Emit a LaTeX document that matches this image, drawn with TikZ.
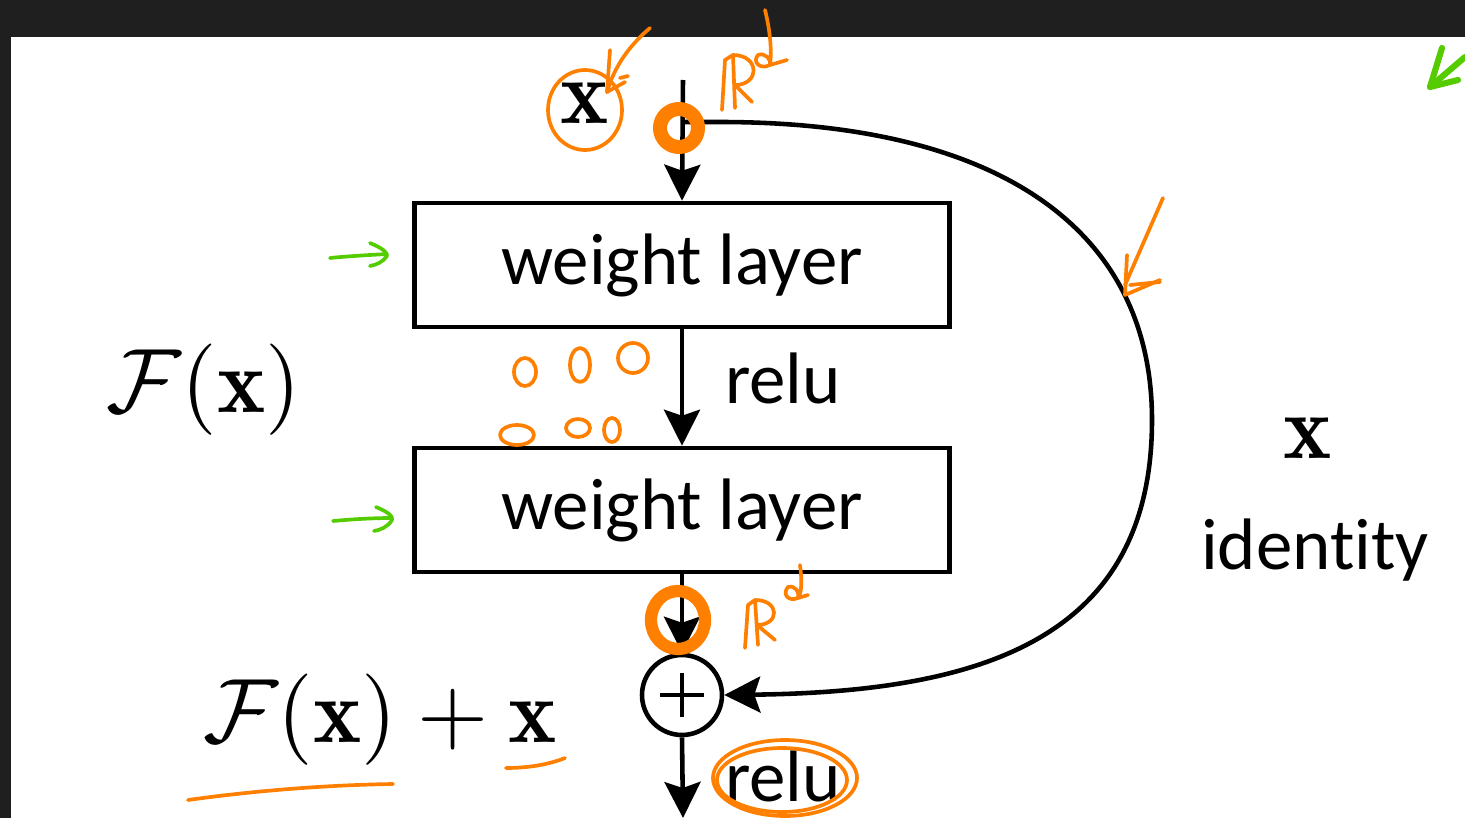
\documentclass[tikz,border=0pt]{standalone}
\usepackage{graphicx}
\usepackage{fontspec}
\newfontfamily\calib[Ligatures=NoCommon]{Carlito}
\usetikzlibrary{arrows.meta}
\definecolor{frame}{HTML}{1F1F1F}
\definecolor{pen}{HTML}{FF8000}
\definecolor{gpen}{HTML}{55CC00}
\tikzset{
  box/.style={draw, line width=2.6pt, minimum width=10.7cm, minimum height=2.48cm, inner sep=0pt, font=\calib\fontsize{41.5}{48}\selectfont},
  lbl/.style={inner sep=0pt, font=\calib\fontsize{41.5}{48}\selectfont},
  mth/.style={inner sep=0pt},
  conn/.style={line width=2.6pt, -{Stealth[length=0.72cm,width=0.72cm,inset=0.12cm]}},
  orange/.style={draw=pen, line width=2.1pt, line cap=round, line join=round},
  green/.style={draw=gpen, line width=2.1pt, line cap=round, line join=round}
}
\newcommand{\mybigmath}[1]{\scalebox{5.2}{$#1$}}
\begin{document}
\begin{tikzpicture}[x=0.02cm,y=-0.02cm]
\useasboundingbox (0,0) rectangle (1465,818);
\fill[frame] (0,0) rectangle (1465,818);
\fill[white] (11,37) rectangle (1465,818);

% main nodes
\node[box] (w1) at (682,265) {weight layer};
\node[box] (w2) at (682,510) {weight layer};
\node[circle, draw, line width=2.6pt, minimum size=1.6cm, inner sep=0pt] (plus) at (682,695) {};
\draw[line width=2.6pt] (plus.center) ++(-22,0) -- ++(44,0);
\draw[line width=2.6pt] (plus.center) ++(0,-22) -- ++(0,44);
\coordinate (top) at (683,80);
\coordinate (split) at (683,122);
\coordinate (bot) at (683,818);

% connectors
\draw[conn] (top) -- (w1.north);
\draw[conn] (w1.south) -- (w2.north);
\draw[conn] (w2.south) -- (plus.north);
\draw[conn] (plus.south) -- (bot);
\draw[conn] (split) -- (720,122) .. controls (1000,122) and (1152,230) .. (1152,420)
   .. controls (1152,640) and (980,692) .. (plus.east);

% labels
\node[lbl] (relu1) at (783,378) {relu};
\node[lbl] (relu2) at (783,776) {relu};
\node[lbl] (ident) at (1315,550) {identity};
\node[mth] (xin) at (585,103) {\mybigmath{\mathbf{x}}};
\node[mth] (xid) at (1308,438) {\mybigmath{\mathbf{x}}};
\node[mth] (Fx) at (204,390) {\mybigmath{\mathcal{F}(\mathbf{x})}};
\node[mth] (Fxx) at (380,720) {\mybigmath{\mathcal{F}(\mathbf{x})+\mathbf{x}}};

% orange annotations
\draw[orange] (585,110) ellipse (37 and 40);
\draw[orange] (650,28) .. controls (630,45) and (615,65) .. (607,92);
\draw[orange] (610,50) -- (607,92) -- (625,82);
\draw[orange] (620,78) -- (628,76);
\draw[orange, line width=8pt] (679,128) circle (19);
\draw[orange] (722,110) -- (725,60) -- (733,55) -- (735,108);
\draw[orange] (733,55) .. controls (760,55) and (760,85) .. (735,85) -- (752,102);
\draw[orange] (765,10) .. controls (770,30) and (772,50) .. (770,65) .. controls (760,70) and (752,62) .. (758,55) .. controls (765,52) and (772,60) .. (770,65) -- (787,60);
\draw[orange] (1163,198) -- (1125,285);
\draw[orange] (1127,255) -- (1125,295) -- (1160,280);
\draw[orange] (1130,285) -- (1160,282);
\draw[orange] (525,372) ellipse (11 and 14);
\draw[orange] (580,365) ellipse (10 and 17);
\draw[orange] (633,358) ellipse (15 and 15);
\draw[orange] (517,435) ellipse (17 and 10);
\draw[orange] (578,428) ellipse (12 and 9);
\draw[orange] (612,430) ellipse (8 and 12);
\draw[orange, line width=7pt] (678,620) ellipse (27 and 29);
\draw[orange] (745,648) -- (748,605) -- (755,600) -- (758,645);
\draw[orange] (755,600) .. controls (780,600) and (780,625) .. (757,625) -- (775,640);
\draw[orange] (800,565) .. controls (802,580) and (802,592) .. (798,598) .. controls (788,602) and (782,594) .. (788,587) .. controls (795,585) and (800,592) .. (798,598) -- (808,595);
\draw[orange] (785,778) ellipse (72 and 38);
\draw[orange] (782,780) ellipse (65 and 32);
\draw[orange] (188,800) .. controls (260,790) and (330,785) .. (393,784);
\draw[orange] (506,768) .. controls (530,768) and (550,764) .. (565,758);

% green annotations
\draw[green] (330,258) .. controls (350,256) and (370,255) .. (387,254);
\draw[green] (370,243) .. controls (382,248) and (387,252) .. (387,256) .. controls (383,262) and (376,265) .. (370,266);
\draw[green] (333,521) .. controls (355,519) and (375,518) .. (392,518);
\draw[green] (376,507) .. controls (388,512) and (393,516) .. (392,520) .. controls (388,527) and (380,530) .. (374,531);
\draw[green, line width=3.5pt] (1465,57) -- (1430,87);
\draw[green, line width=3.5pt] (1442,48) -- (1430,87) -- (1458,80);
\end{tikzpicture}
\end{document}
